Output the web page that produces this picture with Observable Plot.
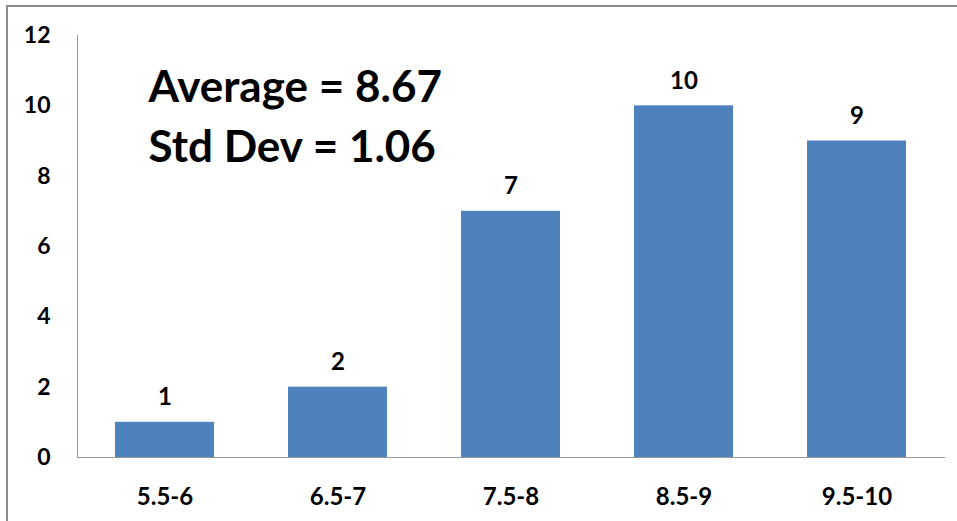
<!DOCTYPE html>
<html>
<head>
<meta charset="utf-8">
<script src="https://cdn.jsdelivr.net/npm/d3@7"></script>
<script src="https://cdn.jsdelivr.net/npm/@observablehq/plot@0.6"></script>
<style>
  html, body { margin: 0; padding: 0; background: #fff; }
  #wrap { position: relative; width: 957px; height: 521px; overflow: hidden; }
  #frame { position: absolute; left: 6px; top: 5px; width: 1000px; height: 600px;
           border-left: 2px solid #8c8c8c; border-top: 2px solid #8c8c8c; pointer-events: none; }
</style>
</head>
<body>
<div id="wrap"><div id="frame"></div></div>
<script>
const categories = ["5.5-6", "6.5-7", "7.5-8", "8.5-9", "9.5-10"];
const counts = [1, 2, 7, 10, 9];
const yTicks = [0, 2, 4, 6, 8, 10, 12];
const statLines = ["Average = 8.67", "Std Dev = 1.06"];

const data = categories.map((c, i) => ({cat: c, n: counts[i]}));
const font = "Lato, 'Open Sans', sans-serif";

const chart = Plot.plot({
  width: 957,
  height: 521,
  marginLeft: 77,
  marginRight: 13,
  marginTop: 35,
  marginBottom: 64,
  style: {fontFamily: font, fontWeight: "bold", color: "#000", background: "transparent"},
  x: {domain: categories, paddingInner: 0.43, paddingOuter: 0.215, label: null},
  y: {domain: [0, 12], label: null},
  marks: [
    Plot.barY(data, {x: "cat", y: "n", fill: "#4F81BD"}),
    Plot.frame({anchor: "left", stroke: "#999"}),
    Plot.frame({anchor: "bottom", stroke: "#999"}),
    Plot.axisY(yTicks, {tickSize: 0, tickPadding: 27, fontSize: 23, fontWeight: "bold", fill: "#000", label: null}),
    Plot.axisX({tickSize: 0, tickPadding: 30, fontSize: 24, fontWeight: "bold", fill: "#000", label: null}),
    Plot.text(data, {x: "cat", y: "n", text: "n", dy: -25, fontSize: 24, fontWeight: "bold", fill: "#000"}),
    Plot.text([statLines.join("\n")], {frameAnchor: "top-left", dx: 71, dy: 24, lineAnchor: "top", textAnchor: "start", lineHeight: 1.36, fontSize: 44, fontWeight: "bold", fill: "#000"})
  ]
});
document.getElementById("wrap").prepend(chart);
</script>
</body>
</html>
